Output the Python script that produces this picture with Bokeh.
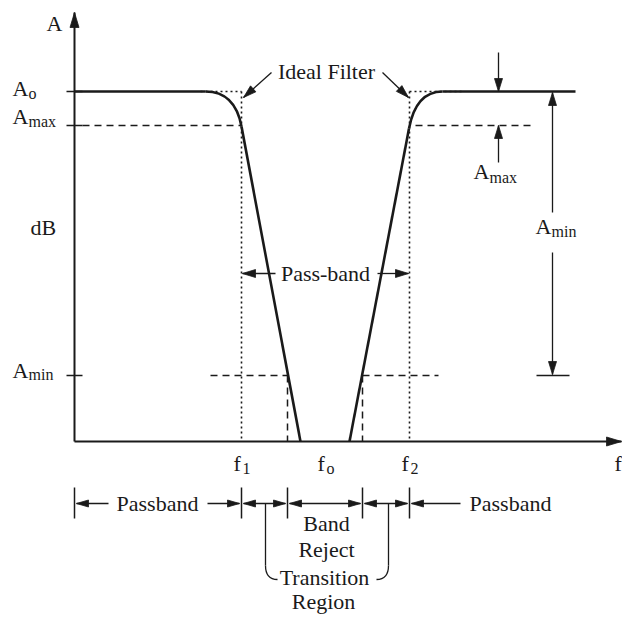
import math
from bokeh.plotting import figure
from bokeh.models import Range1d
from bokeh.core.properties import value
from bokeh.embed import file_html
from bokeh.resources import INLINE

FONT = "Liberation Serif"
INK = "#1a1a1a"

# ---- diagram data (diagram coordinates: x = frequency axis, y = attenuation, downward) ----
# frequency marks
freq_labels = ["1", "o", "2"]
freq_marks = [241, 320, 409]          # f1, fo, f2
f_origin = 74
f_axis_end = 621
f_trans = [287, 362]                  # where response crosses A_min
f_zero = [300, 349]                   # where response reaches the frequency axis
# amplitude levels
level_labels = ["o", "max", "min"]
level_marks = [91, 125, 375]          # A_o, A_max, A_min
A_zero = 441
A_axis_top = 12
# response curve pieces: flat part, bend, straight skirt
resp_flat_left = [74, 205]
resp_bend_left = [234.5, 241, 126]    # control x, end x, end y
resp_bend_right = [408.5, 128, 415.5, 442]  # start x, start y, control x, end x
resp_flat_right = [442, 575]
# bottom band brackets
band_edges = [74, 241, 287, 362, 409]
band_y = 503

TEXT_DY = -7  # compensates the renderer's baseline placement

p = figure(width=622, height=617, x_range=Range1d(0, 622), y_range=Range1d(617, 0),
           output_backend="svg", toolbar_location=None, min_border=0)
p.axis.visible = False
p.grid.visible = False
p.outline_line_color = None
p.background_fill_color = "white"
p.border_fill_color = "white"

A_o, A_max, A_min = level_marks
f1, fo, f2 = freq_marks

heads_x, heads_y = [], []


def head(tx, ty, dx, dy, L=13, W=8):
    n = math.hypot(dx, dy)
    ux, uy = dx / n, dy / n
    bx, by = tx - ux * L, ty - uy * L
    px, py = -uy, ux
    heads_x.append([tx, bx + px * W / 2, bx - px * W / 2])
    heads_y.append([ty, by + py * W / 2, by - py * W / 2])


def seg(x0, y0, x1, y1, w=1.4, dash="solid", color=INK):
    p.segment(x0=[x0], y0=[y0], x1=[x1], y1=[y1], line_color=color, line_width=w, line_dash=dash)


def arrow(x0, y0, x1, y1, w=1.3, both=False, L=13, W=8):
    seg(x0, y0, x1, y1, w)
    head(x1, y1, x1 - x0, y1 - y0, L, W)
    if both:
        head(x0, y0, x0 - x1, y0 - y1, L, W)


def txt(x, y, s, size=22, align="left"):
    p.text(x=[x], y=[y + TEXT_DY], text=[s], text_font=value(FONT), text_font_size=f"{size}px",
           text_align=align, text_baseline="alphabetic", text_color=INK)


# ideal filter (dotted)
DOT = "2 3"
seg(200, A_o, f1, A_o, 1.6, DOT)
seg(f1, A_o, f1, A_zero, 1.6, DOT)
seg(f2, A_o, 463, A_o, 1.6, DOT)
seg(f2, A_o, f2, A_zero, 1.6, DOT)

# dashed levels
DASH = "7 5"
seg(82, A_max, f1, A_max, 1.5, DASH)
seg(415, A_max, 533, A_max, 1.5, DASH)
seg(210, A_min, f_trans[0], A_min, 1.5, DASH)
seg(f_trans[1], A_min, 438, A_min, 1.5, DASH)
seg(f_trans[0], A_min, f_trans[0], A_zero, 1.5, DASH)
seg(f_trans[1], A_min, f_trans[1], A_zero, 1.5, DASH)

# axes
arrow(f_origin, A_zero, f_origin, A_axis_top, w=2, L=15, W=9)
arrow(f_origin, A_zero, f_axis_end, A_zero, w=2, L=15, W=9)
for lv in level_marks:
    seg(66, lv, 82, lv, 1.6)

# response curve
CW = 2.6
seg(resp_flat_left[0], A_o, resp_flat_left[1], A_o, CW)
p.quadratic(x0=[resp_flat_left[1]], y0=[A_o], cx=[resp_bend_left[0]], cy=[A_o],
            x1=[resp_bend_left[1]], y1=[resp_bend_left[2]], line_color=INK, line_width=CW)
seg(resp_bend_left[1], resp_bend_left[2], f_zero[0], A_zero, CW)
seg(f_zero[1], A_zero, resp_bend_right[0], resp_bend_right[1], CW)
p.quadratic(x0=[resp_bend_right[0]], y0=[resp_bend_right[1]], cx=[resp_bend_right[2]], cy=[A_o],
            x1=[resp_bend_right[3]], y1=[A_o], line_color=INK, line_width=CW)
seg(resp_flat_right[0], A_o, resp_flat_right[1], A_o, CW)

# Ideal filter annotation
txt(326, 78, "Ideal Filter", align="center")
arrow(271, 72, 243, 97)
arrow(382, 72, 408, 97)

# A_max / A_min dimension arrows on the right
arrow(498, 52, 498, A_o)
arrow(498, 162, 498, A_max)
arrow(552, 212, 552, A_o + 1)
arrow(552, 252, 552, A_min - 1)
seg(536, A_min, 569, A_min, 1.6)
txt(473, 178, "A")
txt(489, 184, "max", 16)
txt(535, 233, "A")
txt(551, 238, "min", 16)

# Pass-band
txt(325, 280, "Pass-band", align="center")
arrow(275, 273, f1 + 1, 273)
arrow(377, 273, f2 - 1, 273)

# axis labels
txt(46, 30, "A")
txt(30, 234, "dB")
lab_base = [95, 123, 377]
sub_base = [100, 128, 381]
for lab, lv, b, sb in zip(level_labels, level_marks, lab_base, sub_base):
    txt(12, b, "A")
    txt(28, sb, lab, 16)
f_left = [233, 317, 401]
for lab, fx, fl in zip(freq_labels, freq_marks, f_left):
    txt(fl, 470, "f")
    txt(fl + 9, 475, lab, 16)
txt(614, 470, "f")

# bottom brackets
for bx in band_edges:
    seg(bx, 487, bx, 518, 1.5)
arrow(108, band_y, band_edges[0] + 2, band_y, L=12, W=7)
arrow(207, band_y, band_edges[1] - 2, band_y, L=12, W=7)
arrow(band_edges[1] + 2, band_y, band_edges[2] - 2, band_y, both=True, L=12, W=7)
arrow(band_edges[2] + 2, band_y, band_edges[3] - 2, band_y, both=True, L=12, W=7)
arrow(band_edges[3] + 2, band_y, band_edges[4] - 2, band_y, both=True, L=12, W=7)
arrow(460, band_y, band_edges[4] + 2, band_y, L=12, W=7)
txt(157, 510, "Passband", align="center")
txt(510, 510, "Passband", align="center")
txt(326, 530, "Band", align="center")
txt(326, 556, "Reject", align="center")
txt(324, 584, "Transition", align="center")
txt(323, 608, "Region", align="center")

# transition-region brackets
seg(265, band_y, 265, 565, 1.3)
p.quadratic(x0=[265], y0=[565], cx=[265], cy=[579], x1=[277], y1=[579], line_color=INK, line_width=1.3)
seg(388, band_y, 388, 565, 1.3)
p.quadratic(x0=[388], y0=[565], cx=[388], cy=[579], x1=[376], y1=[579], line_color=INK, line_width=1.3)

p.patches(xs=heads_x, ys=heads_y, fill_color=INK, line_color=INK, line_width=0.8)

open("out.html", "w").write(file_html(p, INLINE))
